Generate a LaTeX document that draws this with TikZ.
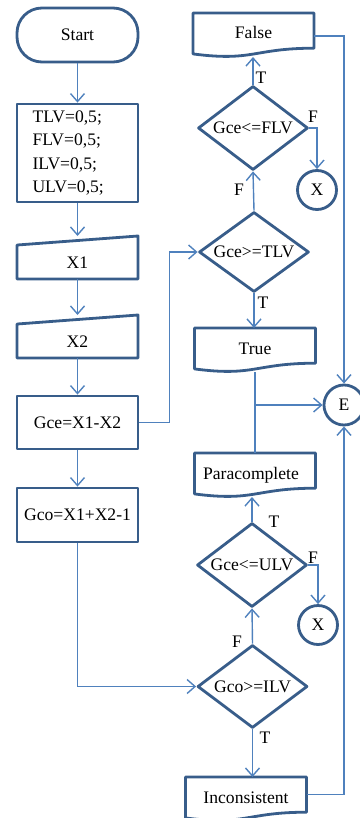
\documentclass[tikz,border=0pt]{standalone}
\usepackage{fontspec}
\setmainfont{Liberation Serif}
\usetikzlibrary{shapes.geometric,arrows.meta,calc}
\definecolor{bordc}{HTML}{385D8A}
\definecolor{connc}{HTML}{4F81BD}
\newcommand\docoutline[1]{%
  \draw[border] (#1.north west) -- (#1.north east) -- ($(#1.north east)!0.8!(#1.south east)$)
   .. controls ($(#1.north)!0.8!(#1.south)$) and ($(#1.north)!1.11!(#1.south)$) .. ($(#1.north west)!0.93!(#1.south west)$) -- cycle;}
\newcommand\manoutline[1]{%
  \draw[border] (#1.south west) -- ($(#1.north west)!0.21!(#1.south west)$) -- (#1.north east) -- (#1.south east) -- cycle;}
\begin{document}
\begin{tikzpicture}[x=1pt,y=-1pt,
  border/.style={draw=bordc, line width=2.8pt, line join=round},
  line/.style={draw=connc, line width=1.4pt},
  conn/.style={line, -{Straight Barb[length=8pt,width=14pt,line width=1.4pt]}},
  every node/.style={font=\fontsize{17.6}{23.3}\selectfont, inner sep=0pt},
  proc/.style={border, rectangle, minimum width=121, minimum height=54},
  term/.style={proc, rounded corners=25},
  manual/.style={rectangle, minimum width=121, minimum height=43, outer sep=0pt, text height=25pt, text depth=4pt},
  doc/.style={rectangle, minimum width=121, minimum height=44, outer sep=0pt, text height=12pt, text depth=4pt},
  dec/.style={border, diamond, aspect=1.5, minimum width=110, minimum height=84},
  circ/.style={border, circle, minimum size=39},
  lbl/.style={}
]
\useasboundingbox (0,0) rectangle (359,818);
% left column
\node[term] (start) at (77.5,35) {Start};
\node[proc, minimum height=98, text width=90pt, align=left] (init) at (77.5,153) {TLV=0,5;\\FLV=0,5;\\ILV=0,5;\\ULV=0,5;};
\node[manual] (in1) at (77.5,257.5) {X1};
\node[manual] (in2) at (77.5,336.5) {X2};
\node[proc, minimum height=53] (gce) at (77.5,422.5) {Gce=X1-X2};
\node[proc] (gco) at (77.5,515) {Gco=X1+X2-1};
% right column
\node[doc] (false) at (253.5,35) {False};
\node[dec] (d1) at (253,128) {Gce<=FLV};
\node[circ] (xa) at (317,190) {X};
\node[dec, minimum height=80] (d2) at (254,252) {Gce>=TLV};
\node[doc] (true) at (255,350) {True};
\node[circ, minimum size=40] (E) at (344,405) {E};
\node[doc] (para) at (255,475) {\hspace*{-8pt}Paracomplete};
\node[dec] (d3) at (252,565) {Gce<=ULV};
\node[circ] (xb) at (318,625) {X};
\node[dec, minimum height=83] (d4) at (252.5,686.5) {Gco>=ILV};
\node[doc] (inc) at (246,799) {Inconsistent};
% outlines of special shapes
\manoutline{in1}
\manoutline{in2}
\docoutline{false}
\docoutline{true}
\docoutline{para}
\docoutline{inc}
% connectors
\draw[conn] (start.south) -- (init.north);
\draw[conn] (init.south) -- (in1.north);
\draw[conn] (in1.south) -- (in2.north);
\draw[conn] (in2.south) -- (gce.north);
\draw[conn] (gce.south) -- (gco.north);
\draw[conn] (gco.south) |- (d4.west);
\draw[conn] (gce.east) -- ++(30,0) |- (d2.west);
\draw[conn] (d2.north) -- (d1.south);
\draw[conn] (d1.north) -- (d1.north |- false.south);
\draw[conn] (d1.east) -| (xa.north);
\draw[conn] (d2.south) -- (d2.south |- true.north);
\draw[line] (true.south) -- (para.north);
\coordinate (br) at (true.south |- E.west);
\draw[conn] (br) -- (E.west);
\draw[conn] ($(false.north east)!0.52!(false.south east)$) -| (E.north);
\draw[conn] ($(inc.north east)!0.4!(inc.south east)$) -| (E.south);
\draw[conn] (d3.north) -- (d3.north |- para.south);
\draw[conn] (d3.east) -| (xb.north);
\draw[conn] (d4.north) -- (d3.south);
\draw[conn] (d4.south) -- (d4.south |- inc.north);
% branch labels
\node[lbl] (l1) at (261,78) {T};
\node[lbl] (l2) at (313,117) {F};
\node[lbl] (l3) at (239,190) {F};
\node[lbl] (l4) at (263,303) {T};
\node[lbl] (l5) at (274,522) {T};
\node[lbl] (l6) at (313,558) {F};
\node[lbl] (l7) at (237,642) {F};
\node[lbl] (l8) at (265,738) {T};
\end{tikzpicture}
\end{document}
